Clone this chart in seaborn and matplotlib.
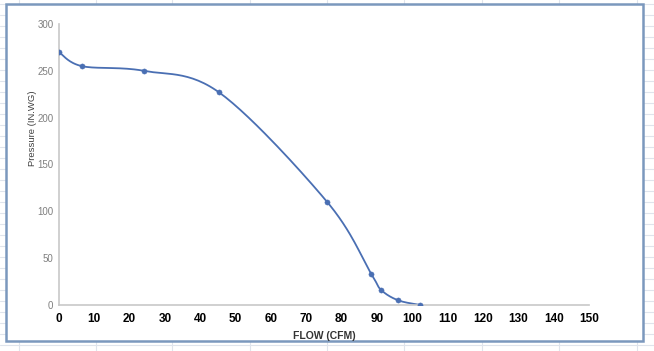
import numpy as np
import pandas as pd
import seaborn as sns
import matplotlib.pyplot as plt
from matplotlib.lines import Line2D
from matplotlib.patches import Rectangle

# fan curve points
flow = [0, 6.5, 24, 45.3, 75.9, 88.4, 91.2, 96, 102.3]
pressure = [270, 255, 250, 227, 110, 33, 16, 5, 0]
x_ticks = list(range(0, 151, 10))
y_ticks = list(range(0, 301, 50))

LINE = "#4a6fb3"


def smooth(x, y, sx=3.53, sy=0.937, n=30):
    """Excel-style smoothed line (cubic bezier, 1/6 tension) through the points."""
    p = np.column_stack([np.asarray(x) * sx, np.asarray(y) * sy])
    p = np.vstack([p[0], p, p[-1]])
    out = []
    t = np.linspace(0, 1, n)[:, None]
    for i in range(1, len(p) - 2):
        p0, p1, p2, p3 = p[i - 1], p[i], p[i + 1], p[i + 2]
        c1 = p1 + (p2 - p0) / 6
        c2 = p2 - (p3 - p1) / 6
        seg = ((1 - t) ** 3) * p1 + 3 * ((1 - t) ** 2) * t * c1 + 3 * (1 - t) * t ** 2 * c2 + t ** 3 * p2
        out.append(seg if i == 1 else seg[1:])
    out = np.vstack(out)
    return out[:, 0] / sx, out[:, 1] / sy


sns.set_style("white")
plt.rcParams["font.family"] = ["Liberation Sans", "DejaVu Sans"]

fig = plt.figure(figsize=(6.54, 3.51), dpi=100)

# spreadsheet grid behind the chart
for gx in [19, 96, 172, 250, 327, 404, 482, 559, 637]:
    fig.add_artist(Line2D([gx / 654, gx / 654], [0, 1], color="#dfe4ec", lw=0.8, zorder=0))
for gy in np.arange(4, 351, 11):
    fig.add_artist(Line2D([0, 1], [1 - gy / 351, 1 - gy / 351], color="#dfe4ec", lw=0.8, zorder=0))
fig.add_artist(Rectangle((6 / 654, 1 - 341 / 351), 637 / 654, 337 / 351,
                         facecolor="white", edgecolor="#7b98bd", lw=1.8, zorder=1))

ax = fig.add_axes([59 / 654, 1 - 305 / 351, 530 / 654, 281 / 351])
ax.set_zorder(2)
ax.patch.set_alpha(0)

sx, sy = smooth(flow, pressure)
curve = pd.DataFrame({"flow": sx, "pressure": sy})
pts = pd.DataFrame({"flow": flow, "pressure": pressure})
sns.lineplot(data=curve, x="flow", y="pressure", sort=False, color=LINE, lw=1.3, ax=ax)
sns.scatterplot(data=pts, x="flow", y="pressure", color=LINE, s=14, edgecolor=LINE, zorder=3, ax=ax)

ax.set_xlim(0, 150)
ax.set_ylim(0, 300)
ax.set_xticks(x_ticks)
ax.set_yticks(y_ticks)
ax.tick_params(axis="x", length=0, pad=6, labelsize=8.5, labelcolor="black")
ax.tick_params(axis="y", length=0, pad=4, labelsize=7, labelcolor="#7f7f7f")
for lab in ax.get_xticklabels():
    lab.set_fontweight("bold")

for side in ["top", "right"]:
    ax.spines[side].set_visible(False)
for side in ["left", "bottom"]:
    ax.spines[side].set_color("#c8c8c8")
    ax.spines[side].set_linewidth(1.2)

ax.set_xlabel("FLOW (CFM)", fontsize=7.5, fontweight="bold", color="#333333", labelpad=4)
ax.set_ylabel("Pressure (IN.WG)", fontsize=6.8, color="#404040")
ax.yaxis.set_label_coords(-0.041, 0.63)

fig.savefig("out.png", dpi=100)
